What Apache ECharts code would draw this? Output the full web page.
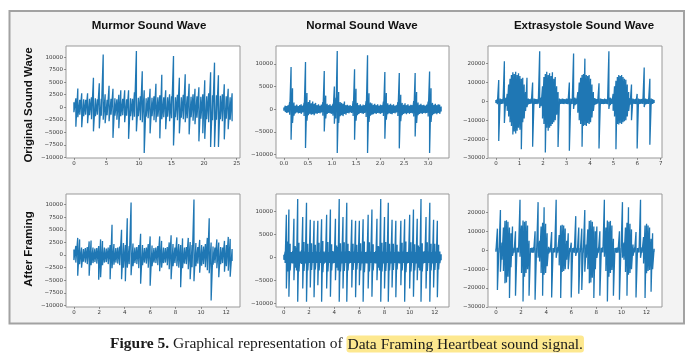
<!DOCTYPE html>
<html><head><meta charset="utf-8">
<script src="https://cdn.jsdelivr.net/npm/echarts@6/dist/echarts.min.js"></script>
<style>html,body{margin:0;padding:0;background:#fff}#c{width:700px;height:363px}</style>
</head><body><div id="c"></div>
<script>
// ---------- data (envelope samples: high / low value per time step) ----------
const rowLabels = ['Original Sound Wave', 'After Framing'];
const columnTitles = ['Murmor Sound Wave', 'Normal Sound Wave', 'Extrasystole Sound Wave'];
const caption = 'Graphical representation of ';
const captionHighlight = 'Data Framing Heartbeat sound signal.';

// Murmur, original (step 0.3 s)
const murmurOrigStep = 0.3;
const murmurOrigHigh = [1000,1800,3750,1500,2800,1600,1500,2800,1700,2000,5900,1800,1600,4800,1700,10500,2600,1500,4300,1700,3700,1800,1600,2500,3400,1700,3400,1600,3400,1800,1700,3000,11200,1900,2200,7200,3400,1800,2000,3700,1900,2200,4700,2000,2400,6500,2000,3400,2000,2600,2200,10200,2000,2500,5900,2000,2500,6600,2200,4700,2100,2600,3700,2200,4000,2100,2600,5400,2200,2800,7000,2400,8900,2400,6400,2300,2600,4600,2200,3700,2000,2800];
const murmurOrigLow = [-1000,-3900,-2000,-1500,-4000,-1800,-1500,-3200,-1600,-2400,-4800,-1800,-1500,-4200,-1700,-2500,-3200,-1600,-2800,-1500,-6100,-1700,-2500,-4200,-1800,-1600,-3000,-1700,-6300,-1800,-2600,-1900,-4800,-1800,-2600,-3000,-9100,-1900,-2200,-5200,-1800,-2600,-3000,-1900,-6200,-2400,-2000,-4400,-1900,-2800,-2200,-7600,-2000,-2600,-5200,-2100,-2400,-3000,-2200,-5400,-2000,-2700,-3400,-2100,-6800,-2300,-5200,-6300,-2400,-3000,-7900,-2600,-7900,-2500,-7900,-2400,-2800,-6400,-2300,-4400,-2500,-2800];

// Normal, original (step 0.03 s)
const normalOrigStep = 0.03;
const normalOrigHigh = [400,800,700,900,1500,9300,4600,1500,800,1000,700,900,1100,800,1400,10400,3600,1600,2000,1300,1700,1200,1400,900,1100,800,1000,1600,8400,3000,1200,900,1100,800,1200,5000,2500,12800,3800,1600,1400,1200,1700,900,1000,800,900,700,1800,8800,4500,1400,900,1100,800,1000,900,1800,11900,3500,1500,1300,1000,1200,900,1100,800,1000,900,1700,8200,3600,1300,1000,1200,900,1100,800,900,1600,8000,3200,1400,1000,1300,900,1100,800,1000,900,1800,8000,3800,1500,1000,1200,900,1000,800,1000,1700,8300,4600,1400,1000,1200,900,1100,1000,600];
const normalOrigLow = [-300,-600,-800,-700,-1200,-6700,-3000,-1400,-900,-700,-900,-800,-1000,-700,-1500,-8500,-2500,-1300,-1000,-1200,-1100,-1300,-900,-1000,-800,-900,-700,-1400,-4900,-2000,-1000,-800,-900,-1000,-1400,-3200,-2000,-9600,-3000,-1500,-1300,-1500,-1000,-1200,-800,-900,-700,-800,-1500,-6700,-2500,-1300,-1000,-800,-900,-1000,-800,-1700,-9600,-2800,-1400,-1200,-1100,-900,-1000,-800,-900,-1000,-800,-1500,-6500,-2300,-1100,-900,-1000,-1100,-800,-900,-700,-1500,-8600,-2600,-1300,-1000,-900,-1100,-800,-1000,-800,-900,-1600,-6000,-3000,-1300,-1000,-900,-1000,-800,-900,-800,-1600,-9600,-2800,-1300,-1000,-900,-1100,-800,-1000,-500];

// Extrasystole, original (step 0.06 s)
const extraOrigStep = 0.06;
const extraOrigHigh = [800,1200,11400,1500,1200,1500,21300,2000,4000,9000,12000,14000,15500,14500,15800,14000,15000,13500,12000,12500,9000,5000,12500,1500,1200,1500,10000,1500,1300,1200,1500,26600,2000,8000,13000,14500,15700,14000,15000,13500,15500,12000,13000,8000,5000,1500,1200,1500,1300,1200,1500,1300,10000,1500,1200,25400,2000,1500,5000,10000,12500,14000,14500,22700,14000,13500,14000,12000,9000,5000,1800,1300,1200,9600,1500,1300,1200,1500,1200,1300,26600,2000,1500,4000,8000,11000,13000,14000,13500,14000,13000,12000,11500,9000,5000,1800,9000,1500,1200,1300,4000,1500,1200,1300,1500,18000,1500,1200,1300,12000,1500,1200,800];
const extraOrigLow = [-800,-1500,-21000,-1500,-1300,-1200,-11400,-2500,-5000,-8000,-11000,-13000,-17500,-16000,-17000,-15500,-14000,-15000,-25300,-11000,-9000,-5000,-3000,-1500,-1300,-1200,-24000,-1500,-1200,-1400,-1200,-3500,-2500,-9000,-12000,-27100,-14000,-15500,-14000,-13000,-12000,-11000,-10000,-7000,-24100,-1500,-1300,-1200,-1400,-1200,-1300,-1500,-26200,-1500,-1300,-4000,-2000,-1400,-6000,-10000,-12000,-24000,-13000,-12500,-13000,-11500,-12000,-11000,-8500,-5000,-1800,-1400,-1200,-25000,-1500,-1200,-1400,-1300,-1200,-1500,-4000,-2000,-1300,-5000,-8000,-25300,-12000,-12200,-11500,-12000,-11000,-10500,-10000,-8000,-5000,-1800,-10000,-1300,-1200,-1400,-25000,-1500,-1300,-1200,-1400,-3000,-1500,-1200,-1300,-23000,-1500,-1200,-800];

// Murmur, after framing (step 0.15 s)
const murmurFramedStep = 0.15;
const murmurFramedHigh = [1100,1800,3400,3100,1500,1200,1400,1600,2700,2900,1500,1300,1400,1800,3100,2800,1500,1300,1500,2000,6000,2200,1400,1500,1700,5000,2400,2000,7300,1800,10400,2300,1500,1600,2000,4200,2000,1400,1500,2200,3700,1900,1400,1500,1800,3700,2800,1500,1400,1600,2500,3900,2200,1500,3500,2200,2000,3300,1500,1600,3400,2600,2000,11000,2400,1600,3000,2000,1700,2200,3400,7300,2500,1700,1500,3100,2500,1600,1500,2800,2000,3600,3200,1200];
const murmurFramedLow = [-1000,-1500,-4100,-1800,-2500,-1300,-1500,-1800,-4100,-2000,-1600,-1400,-1700,-4900,-4400,-2000,-1500,-1400,-1800,-4800,-2600,-1900,-1500,-1700,-2000,-4800,-2500,-5200,-2500,-1800,-4000,-2200,-1600,-1800,-2600,-5700,-2000,-1500,-1700,-2500,-6100,-2200,-1500,-1600,-2000,-3200,-2500,-1600,-1500,-2000,-2800,-4800,-2200,-1600,-2200,-2500,-6400,-2600,-1700,-1800,-2800,-4800,-2400,-5200,-2200,-1700,-3500,-2100,-1800,-2400,-3000,-3600,-9000,-1900,-1600,-2600,-4400,-1800,-1600,-3300,-2200,-3100,-4300,-1200];

// Normal, after framing (step 0.1 s)
const normalFramedStep = 0.1;
const normalFramedHigh = [600,1300,9300,3500,10400,3000,1200,1400,8400,2500,2200,12700,3200,1300,1500,8800,3400,1300,11900,3000,1200,8200,3100,1200,8000,2800,1300,8000,3200,1200,8300,3600,1300,1100,9300,3400,1200,10400,2900,1400,1200,8400,2600,2300,12700,3100,1300,8800,3300,1300,11900,3000,1400,1200,8200,3000,1300,8000,2800,1200,8000,3100,1300,8300,3500,1200,1300,9300,3300,1300,10400,2900,1200,1400,8400,2500,2400,12700,3200,1300,8800,3400,1200,11900,3000,1300,8200,3000,1200,8000,2800,1300,1200,8000,3200,1300,8300,3500,1200,1300,9300,3300,1300,10400,2900,1200,8400,2600,2300,12700,3100,1300,1400,8800,3300,1300,11900,3000,1200,8200,3000,1300,8000,2800,1300,700];
const normalFramedLow = [-500,-1200,-6700,-3000,-8500,-2800,-1200,-1300,-4900,-2200,-2800,-9600,-3000,-1200,-1400,-6700,-2900,-1300,-9600,-2800,-1200,-6500,-2700,-1200,-8600,-2600,-1200,-6000,-2800,-1200,-9600,-3200,-1300,-1100,-6700,-3000,-1200,-8500,-2800,-1300,-1200,-4900,-2200,-2800,-9600,-3000,-1300,-6700,-2900,-1200,-9600,-2800,-1300,-1200,-6500,-2700,-1200,-8600,-2600,-1200,-6000,-2800,-1300,-9600,-3200,-1200,-1300,-6700,-3000,-1200,-8500,-2800,-1200,-1300,-4900,-2200,-2800,-9600,-3000,-1300,-6700,-2900,-1200,-9600,-2800,-1300,-6500,-2700,-1200,-8600,-2600,-1200,-1300,-6000,-2800,-1200,-9600,-3200,-1300,-1200,-6700,-3000,-1200,-8500,-2800,-1300,-4900,-2200,-2800,-9600,-3000,-1300,-1200,-6700,-2900,-1200,-9600,-2800,-1300,-6500,-2700,-1200,-8600,-2600,-1200,-600];

// Extrasystole, after framing (step 0.12 s)
const extraFramedStep = 0.12;
const extraFramedHigh = [800,11400,1300,21300,4000,12000,15500,15800,15000,12000,9000,12500,1200,10000,1300,1500,26600,13000,15700,15000,15500,13000,5000,1200,1300,1500,10000,1200,25400,5000,12500,14500,22700,14000,9000,1800,1200,9600,1200,1200,26600,1500,8000,13000,13500,13000,11500,5000,9000,1200,4000,1200,1500,18000,1300,12000,1200,11400,1300,21300,3000,11000,15500,15800,15000,12500,10000,12500,1200,10000,1300,1500,26600,12000,15700,15000,15500,13000,6000,1200,1300,1500,10000,1200,25400,4000,12000,14500,22700,14000,11000,3000,1200,9600,1200,1200,26600,1500,7000,13000,14000,13000,12000,6000,9000,800];
const extraFramedLow = [-800,-21000,-1300,-11400,-5000,-11000,-17500,-17000,-14000,-25300,-9000,-3000,-1300,-24000,-1200,-1200,-3500,-12000,-27100,-14000,-12000,-10000,-24100,-1300,-1400,-1300,-26200,-1300,-4000,-6000,-12000,-24000,-13000,-12000,-8500,-1800,-1200,-25000,-1400,-1200,-4000,-1300,-8000,-25300,-11500,-11000,-10000,-5000,-10000,-1200,-25000,-1300,-1400,-3000,-1300,-23000,-1200,-21000,-1300,-11400,-4000,-10000,-17500,-17000,-14500,-25300,-10000,-4000,-1300,-24000,-1200,-1200,-3500,-11000,-27100,-14000,-12000,-10500,-24100,-1300,-1400,-1300,-26200,-1300,-4000,-5000,-11500,-24000,-13000,-12000,-10000,-3000,-1200,-25000,-1400,-1200,-4000,-1300,-7000,-25300,-12200,-11000,-10500,-22000,-10000,-800];

// tick values
const murmurYTicks = [-10000,-7500,-5000,-2500,0,2500,5000,7500,10000];
const normalYTicks = [-10000,-5000,0,5000,10000];
const extraYTicks = [-30000,-20000,-10000,0,10000,20000];
const murmurOrigXTicks = [0,5,10,15,20,25];
const normalOrigXTicks = [0,0.5,1,1.5,2,2.5,3];
const extraOrigXTicks = [0,1,2,3,4,5,6,7];
const framedXTicks = [0,2,4,6,8,10,12];

// ---------- layout / styling ----------
const panels = [
  {step:murmurOrigStep, hi:murmurOrigHigh, lo:murmurOrigLow, xt:murmurOrigXTicks, yt:murmurYTicks, x:[-1.215,25.515], y:[-10115,12215], g:{left:66,top:46,width:174,height:112}, dec:0},
  {step:normalOrigStep, hi:normalOrigHigh, lo:normalOrigLow, xt:normalOrigXTicks, yt:normalYTicks, x:[-0.1635,3.4335], y:[-10720,13920], g:{left:276,top:46,width:173,height:112}, dec:1},
  {step:extraOrigStep, hi:extraOrigHigh, lo:extraOrigLow, xt:extraOrigXTicks, yt:extraYTicks, x:[-0.336,7.056], y:[-30000,29400], g:{left:488,top:46,width:174,height:112}, dec:0},
  {step:murmurFramedStep, hi:murmurFramedHigh, lo:murmurFramedLow, xt:framedXTicks, yt:murmurYTicks, x:[-0.6225,13.0725], y:[-10300,12100], g:{left:66,top:194,width:174,height:113}, dec:0},
  {step:normalFramedStep, hi:normalFramedHigh, lo:normalFramedLow, xt:framedXTicks, yt:normalYTicks, x:[-0.625,13.125], y:[-10720,13780], g:{left:276,top:194,width:173,height:113}, dec:0},
  {step:extraFramedStep, hi:extraFramedHigh, lo:extraFramedLow, xt:framedXTicks, yt:extraYTicks, x:[-0.63,13.23], y:[-30000,29700], g:{left:488,top:194,width:174,height:113}, dec:0}
];

function zigzag(step, hi, lo) {
  const out = [];
  for (let i = 0; i < hi.length; i++) {
    const t = Math.round(i * step * 1000) / 1000;
    out.push([t, hi[i]], [t, lo[i]]);
  }
  return out;
}
const minus = v => (v < 0 ? '\u2212' + Math.abs(v) : String(v));
const tickFont = {fontSize: 5.5, color: '#3a3a3a', fontFamily: 'DejaVu Sans'};

const grid = [], xAxis = [], yAxis = [], series = [];
panels.forEach((p, i) => {
  grid.push(Object.assign({show: true, backgroundColor: '#ffffff', borderColor: '#999999', borderWidth: 1}, p.g));
  xAxis.push({type: 'value', gridIndex: i, min: p.x[0], max: p.x[1],
    axisLine: {show: false, onZero: false}, splitLine: {show: false},
    axisTick: {show: true, customValues: p.xt, length: 2, lineStyle: {color: '#555', width: 0.6}},
    axisLabel: Object.assign({customValues: p.xt, margin: 3, formatter: v => p.dec ? v.toFixed(1) : minus(v)}, tickFont)});
  yAxis.push({type: 'value', gridIndex: i, min: p.y[0], max: p.y[1],
    axisLine: {show: false, onZero: false}, splitLine: {show: false},
    axisTick: {show: true, customValues: p.yt, length: 2, lineStyle: {color: '#555', width: 0.6}},
    axisLabel: Object.assign({customValues: p.yt, margin: 3, formatter: minus}, tickFont)});
  series.push({type: 'line', xAxisIndex: i, yAxisIndex: i, data: zigzag(p.step, p.hi, p.lo),
    symbol: 'none', showSymbol: false, silent: true, clip: true,
    lineStyle: {color: '#1f77b4', width: 1.3}});
});

const headFont = {fontSize: 11.5, fontWeight: 'bold', fontFamily: '"Liberation Sans", Arial, sans-serif', fill: '#111'};
const titleX = [149, 362, 584];
const graphic = [
  {type: 'rect', z: -100, shape: {x: 9.5, y: 11, width: 674.5, height: 312.5}, style: {fill: '#f3f3f3', stroke: '#a2a2a2', lineWidth: 2}},
  ...columnTitles.map((t, i) => ({type: 'text', x: titleX[i], y: 26, style: Object.assign({text: t, align: 'center', verticalAlign: 'middle', textAlign: 'center', textVerticalAlign: 'middle'}, headFont)})),
  {type: 'text', x: 29, y: 105, rotation: Math.PI / 2, style: Object.assign({text: rowLabels[0], align: 'center', verticalAlign: 'middle', textAlign: 'center', textVerticalAlign: 'middle'}, headFont)},
  {type: 'text', x: 29, y: 249, rotation: Math.PI / 2, style: Object.assign({text: rowLabels[1], align: 'center', verticalAlign: 'middle', textAlign: 'center', textVerticalAlign: 'middle'}, headFont)},
  {type: 'text', x: 347, y: 344, style: {
    text: '{b|Figure 5.} ' + caption + '{h|' + captionHighlight + '}',
    fontFamily: '"Liberation Serif", serif', fontSize: 15.5, fill: '#1a1a1a',
    align: 'center', verticalAlign: 'middle', textAlign: 'center', textVerticalAlign: 'middle',
    rich: {
      b: {fontWeight: 'bold', fontFamily: '"Liberation Serif", serif', fontSize: 15.5, fill: '#1a1a1a'},
      h: {backgroundColor: '#fde88f', borderRadius: 3, padding: [1, 1, 0, 1], fontFamily: '"Liberation Serif", serif', fontSize: 15.5, fill: '#1a1a1a'}
    }}}
];

const chart = echarts.init(document.getElementById('c'), null, {renderer: 'canvas'});
chart.setOption({animation: false, backgroundColor: '#ffffff', grid, xAxis, yAxis, series, graphic});
</script></body></html>
